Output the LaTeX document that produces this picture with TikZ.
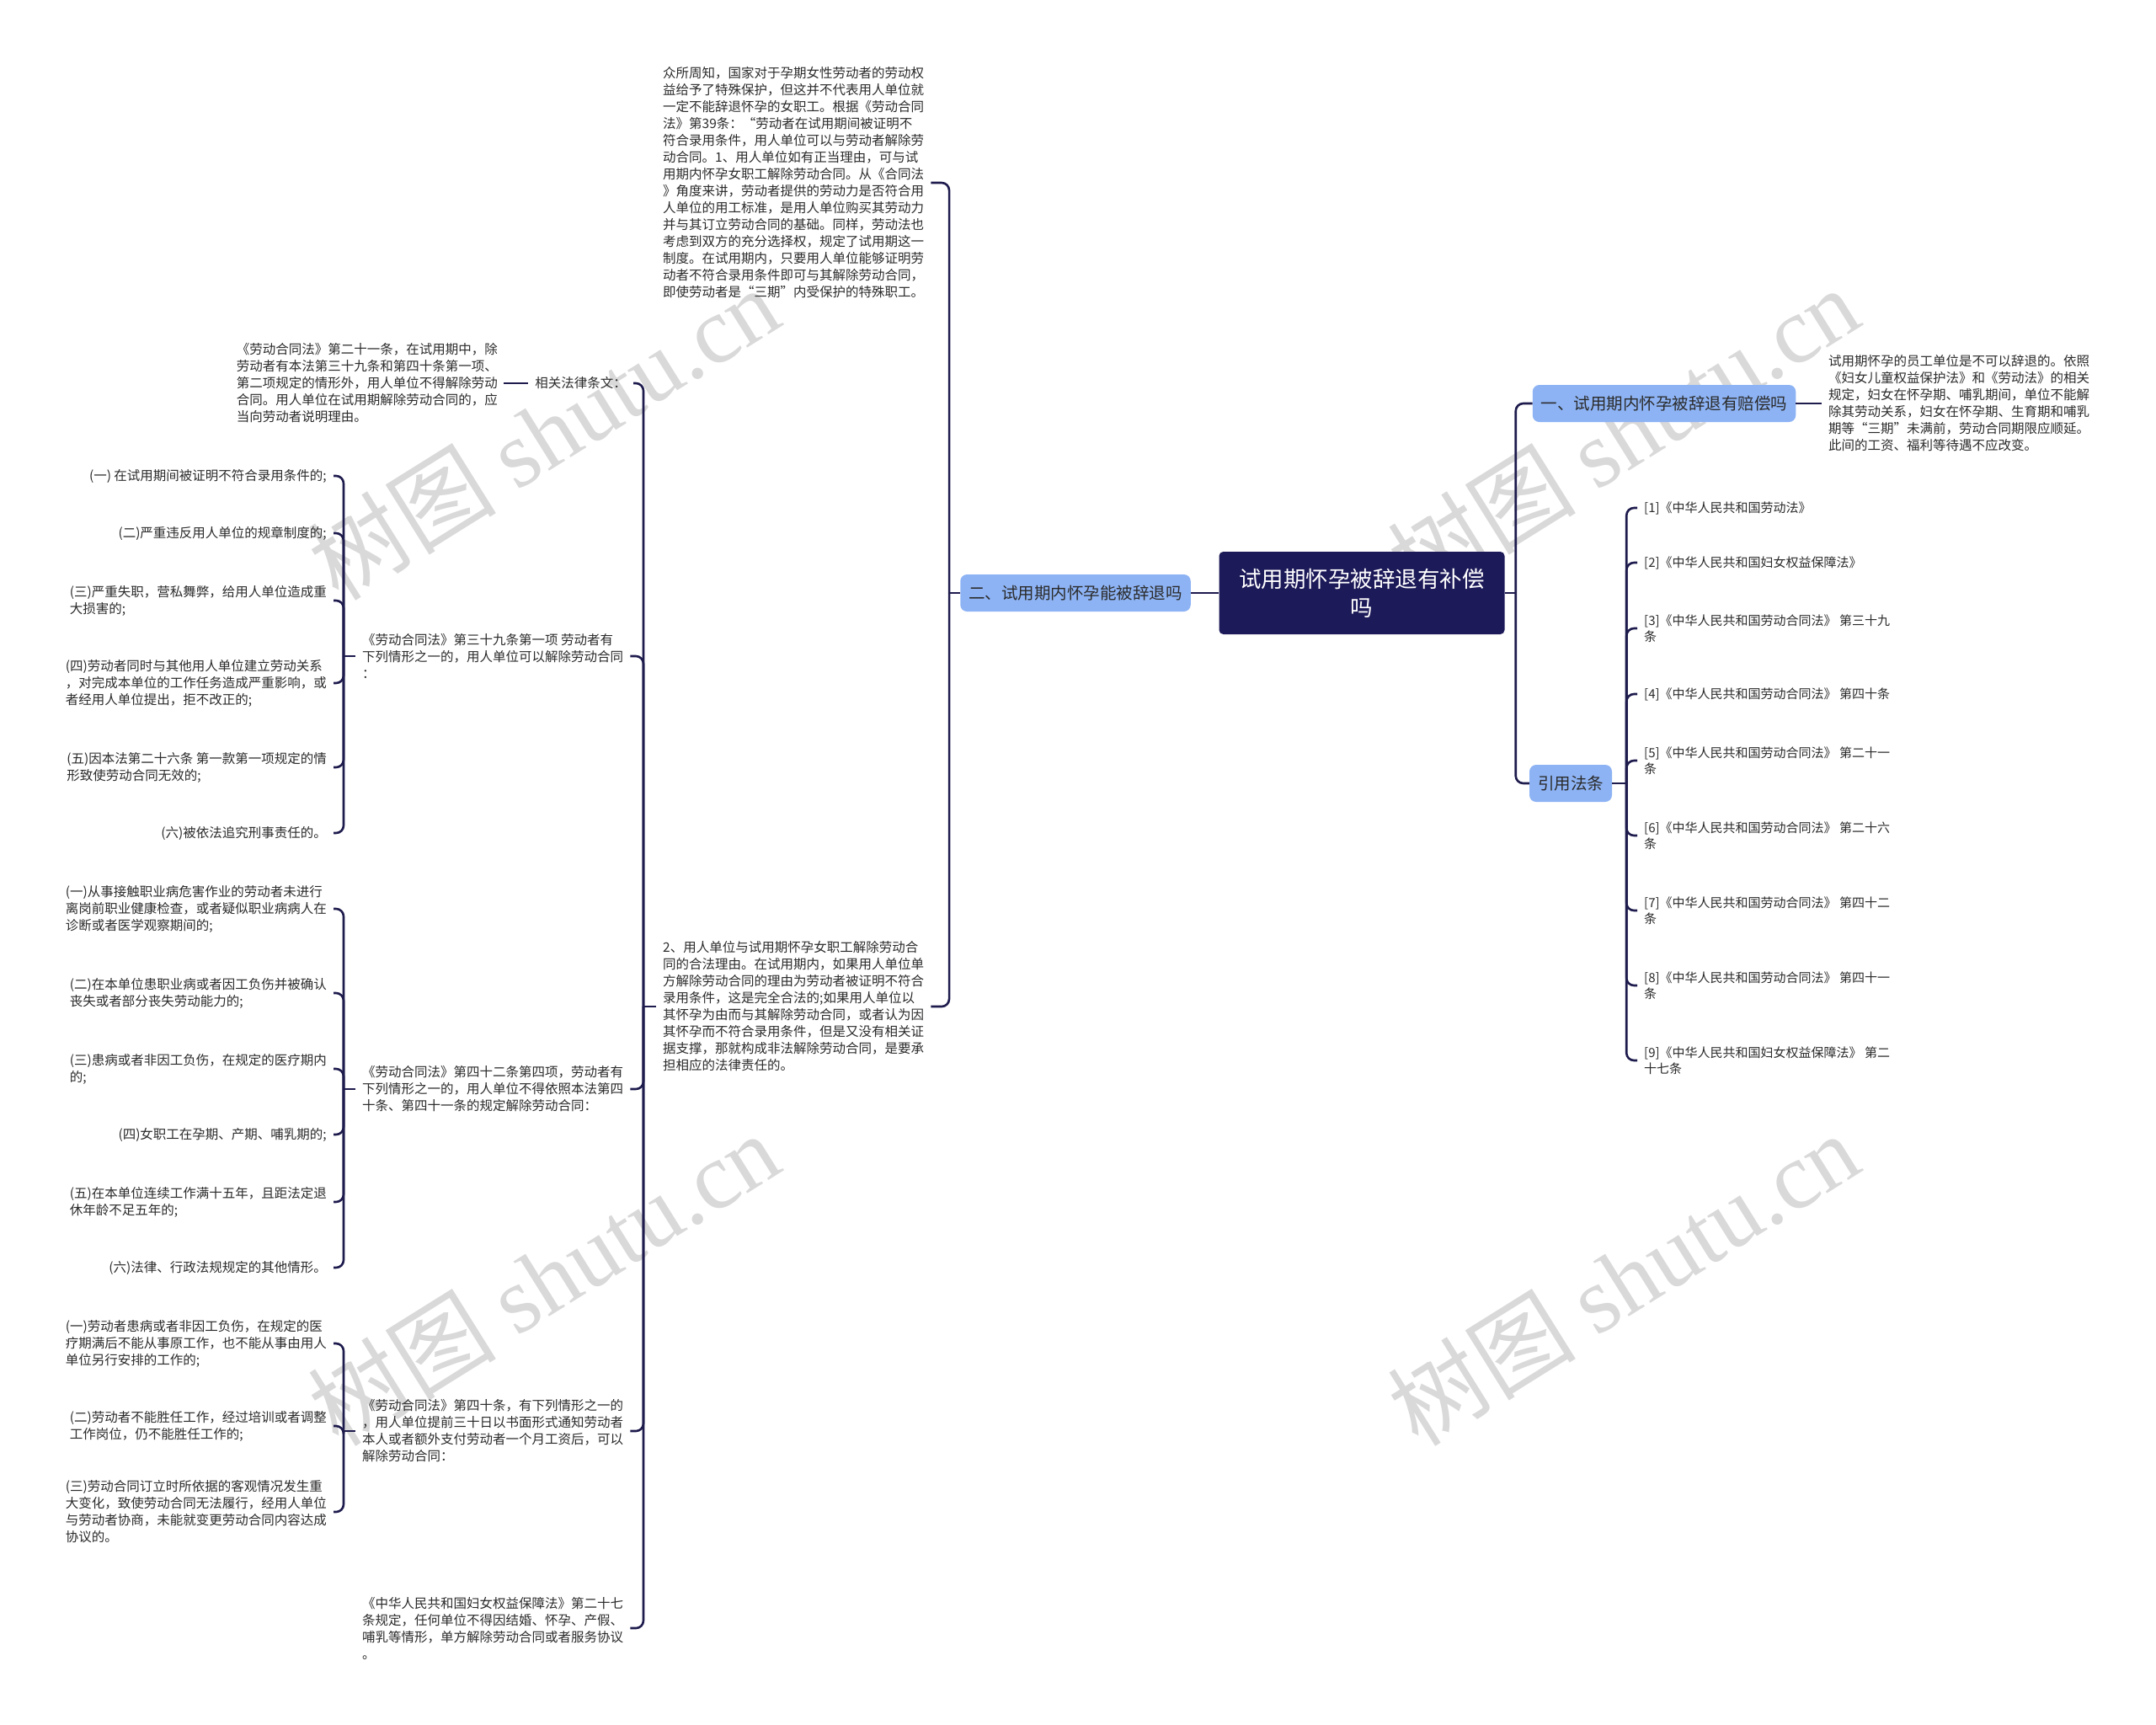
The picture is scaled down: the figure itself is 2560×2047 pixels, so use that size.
\documentclass[tikz,border=0pt]{standalone}
\usepackage{fontspec}
\setmainfont{Noto Sans CJK SC}
\newfontfamily\wmfont{Liberation Serif}

\definecolor{linkc}{HTML}{1E1B4D}
\definecolor{rootc}{HTML}{1D1A59}
\definecolor{topicc}{HTML}{8DB3F4}
\definecolor{txtc}{HTML}{2B2B2B}

\newcommand{\leaffont}{\fontsize{15.5bp}{20bp}\selectfont}
\newcommand{\reffont}{\fontsize{15bp}{19bp}\selectfont}

\begin{document}
\begin{tikzpicture}
[x=1bp,y=-1bp,
  linkLine/.style={draw=linkc,line width=2.6bp},
  bendLine/.style={linkLine,rounded corners=9bp},
  rootNode/.style={fill=rootc,text=white,rounded corners=5bp,align=center,
    minimum width=339bp,minimum height=98bp,inner sep=0pt,
    font=\fontsize{26.5bp}{34bp}\selectfont},
  topicNode/.style={fill=topicc,text=txtc,rounded corners=8bp,
    minimum height=44bp,inner xsep=10bp,inner ysep=0pt,
    font=\fontsize{19.5bp}{24bp}\selectfont},
  leafNode/.style={text=txtc,align=left,inner xsep=8bp,inner ysep=2bp,font=\leaffont},
  refNode/.style={leafNode,font=\reffont},
  wmNode/.style={text=black!15,rotate=32,inner sep=0pt,
    font=\fontsize{112bp}{112bp}\selectfont}]
\fill[white] (0,0) rectangle (2560,2047);
\useasboundingbox (0,0) rectangle (2560,2047);

%% watermarks
\foreach \wx/\wy in {645/514, 1927/514, 645/1518, 1927/1518}
{
  \node[wmNode] at (\wx,\wy) {树图 {\wmfont shutu.cn}};
}

%% centre and first level
\node[rootNode] (root) at (1617,704) {试用期怀孕被辞退有补偿\\吗};
\node[topicNode] (b1) at (1976,479) {一、试用期内怀孕被辞退有赔偿吗};
\node[topicNode] (cite) at (1865,930) {引用法条};
\node[topicNode] (b2) at (1277,704) {二、试用期内怀孕能被辞退吗};

%% right side
\node[leafNode,anchor=west] (b1txt) at (2163,479) {试用期怀孕的员工单位是不可以辞退的。依照\\
《妇女儿童权益保护法》和《劳动法》的相关\\
规定，妇女在怀孕期、哺乳期间，单位不能解\\
除其劳动关系，妇女在怀孕期、生育期和哺乳\\
期等“三期”未满前，劳动合同期限应顺延。\\
此间的工资、福利等待遇不应改变。};

\foreach \nodename/\y/\txt in {
  ref1/603/{[1]《中华人民共和国劳动法》},
  ref2/668/{[2]《中华人民共和国妇女权益保障法》},
  ref3/746/{[3]《中华人民共和国劳动合同法》 第三十九\\条},
  ref4/824/{[4]《中华人民共和国劳动合同法》 第四十条},
  ref5/903/{[5]《中华人民共和国劳动合同法》 第二十一\\条},
  ref6/992/{[6]《中华人民共和国劳动合同法》 第二十六\\条},
  ref7/1081/{[7]《中华人民共和国劳动合同法》 第四十二\\条},
  ref8/1170/{[8]《中华人民共和国劳动合同法》 第四十一\\条},
  ref9/1259/{[9]《中华人民共和国妇女权益保障法》 第二\\十七条}}
{
  \node[refNode,anchor=west] (\nodename) at (1944,\y) {\txt};
}

%% left side, second level
\node[leafNode,anchor=west] (intro) at (779,217) {众所周知，国家对于孕期女性劳动者的劳动权\\
益给予了特殊保护，但这并不代表用人单位就\\
一定不能辞退怀孕的女职工。根据《劳动合同\\
法》第39条：“劳动者在试用期间被证明不\\
符合录用条件，用人单位可以与劳动者解除劳\\
动合同。1、用人单位如有正当理由，可与试\\
用期内怀孕女职工解除劳动合同。从《合同法\\
》角度来讲，劳动者提供的劳动力是否符合用\\
人单位的用工标准，是用人单位购买其劳动力\\
并与其订立劳动合同的基础。同样，劳动法也\\
考虑到双方的充分选择权，规定了试用期这一\\
制度。在试用期内，只要用人单位能够证明劳\\
动者不符合录用条件即可与其解除劳动合同，\\
即使劳动者是“三期”内受保护的特殊职工。};
\node[leafNode,anchor=west] (reason) at (779,1195) {2、用人单位与试用期怀孕女职工解除劳动合\\
同的合法理由。在试用期内，如果用人单位单\\
方解除劳动合同的理由为劳动者被证明不符合\\
录用条件，这是完全合法的;如果用人单位以\\
其怀孕为由而与其解除劳动合同，或者认为因\\
其怀孕而不符合录用条件，但是又没有相关证\\
据支撑，那就构成非法解除劳动合同，是要承\\
担相应的法律责任的。};

%% left side, laws
\node[leafNode,anchor=east] (law) at (752,455) {相关法律条文：};
\node[leafNode,anchor=east,inner xsep=7bp] (art21) at (598,455) {《劳动合同法》第二十一条，在试用期中，除\\
劳动者有本法第三十九条和第四十条第一项、\\
第二项规定的情形外，用人单位不得解除劳动\\
合同。用人单位在试用期解除劳动合同的，应\\
当向劳动者说明理由。};
\node[leafNode,anchor=west] (a39) at (422,779) {《劳动合同法》第三十九条第一项 劳动者有\\
下列情形之一的，用人单位可以解除劳动合同\\
：};
\node[leafNode,anchor=west] (a42) at (422,1293) {《劳动合同法》第四十二条第四项，劳动者有\\
下列情形之一的，用人单位不得依照本法第四\\
十条、第四十一条的规定解除劳动合同：};
\node[leafNode,anchor=west] (a40) at (422,1699) {《劳动合同法》第四十条，有下列情形之一的\\
，用人单位提前三十日以书面形式通知劳动者\\
本人或者额外支付劳动者一个月工资后，可以\\
解除劳动合同：};
\node[leafNode,anchor=west] (wq) at (422,1933) {《中华人民共和国妇女权益保障法》第二十七\\
条规定，任何单位不得因结婚、怀孕、产假、\\
哺乳等情形，单方解除劳动合同或者服务协议\\
。};

%% left side, items
\foreach \nodename/\y/\txt in {
  a39c1/565/{(一) 在试用期间被证明不符合录用条件的;},
  a39c2/633/{(二)严重违反用人单位的规章制度的;},
  a39c3/713/{(三)严重失职，营私舞弊，给用人单位造成重\\大损害的;},
  a39c4/811/{(四)劳动者同时与其他用人单位建立劳动关系\\，对完成本单位的工作任务造成严重影响，或\\者经用人单位提出，拒不改正的;},
  a39c5/911/{(五)因本法第二十六条 第一款第一项规定的情\\形致使劳动合同无效的;},
  a39c6/989/{(六)被依法追究刑事责任的。},
  a42c1/1079/{(一)从事接触职业病危害作业的劳动者未进行\\离岗前职业健康检查，或者疑似职业病病人在\\诊断或者医学观察期间的;},
  a42c2/1179/{(二)在本单位患职业病或者因工负伤并被确认\\丧失或者部分丧失劳动能力的;},
  a42c3/1269/{(三)患病或者非因工负伤，在规定的医疗期内\\的;},
  a42c4/1347/{(四)女职工在孕期、产期、哺乳期的;},
  a42c5/1427/{(五)在本单位连续工作满十五年，且距法定退\\休年龄不足五年的;},
  a42c6/1505/{(六)法律、行政法规规定的其他情形。},
  a40c1/1595/{(一)劳动者患病或者非因工负伤，在规定的医\\疗期满后不能从事原工作，也不能从事由用人\\单位另行安排的工作的;},
  a40c2/1693/{(二)劳动者不能胜任工作，经过培训或者调整\\工作岗位，仍不能胜任工作的;},
  a40c3/1795/{(三)劳动合同订立时所依据的客观情况发生重\\大变化，致使劳动合同无法履行，经用人单位\\与劳动者协商，未能就变更劳动合同内容达成\\协议的。}}
{
  \node[leafNode,anchor=east] (\nodename) at (396,\y) {\txt};
}

%% edges, right
\draw[linkLine] (root.east) -- ++(13,0) coordinate (rb);
\foreach \endnode in {b1,cite}
  \draw[bendLine] (rb) |- (\endnode.west);
\draw[linkLine] (b1.east) -- (b1txt.west);
\draw[linkLine] (cite.east) -- ++(17,0) coordinate (cb);
\foreach \i in {1,...,9}
  \draw[bendLine] (cb) |- (ref\i.west);

%% edges, left
\draw[linkLine] (root.west) -- (b2.east);
\draw[linkLine] (b2.west) -- ++(-13,0) coordinate (lb);
\foreach \endnode in {intro,reason}
  \draw[bendLine] (lb) |- (\endnode.east);
\draw[linkLine] (reason.west) -- ++(-15,0) coordinate (mb);
\foreach \endnode in {law,a39,a42,a40,wq}
  \draw[bendLine] (mb) |- (\endnode.east);
\draw[linkLine] (law.west) -- (art21.east);
\foreach \startnode/\n in {a39/6,a42/6,a40/3}
{
  \draw[linkLine] (\startnode.west) -- ++(-14,0) coordinate (\startnode bus);
  \foreach \i in {1,...,\n}
    \draw[bendLine] (\startnode bus) |- (\startnode c\i.east);
}
\end{tikzpicture}
\end{document}
